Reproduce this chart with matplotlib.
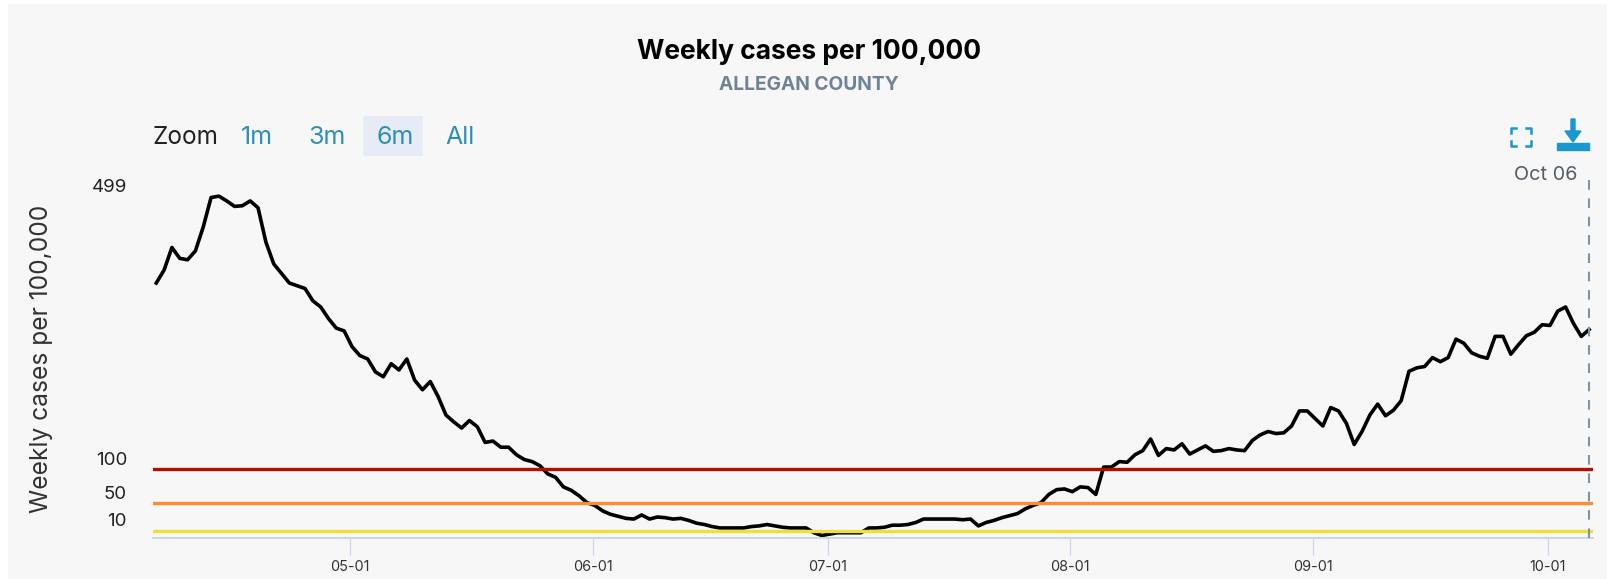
import pandas as pd
import matplotlib
matplotlib.use('Agg')
import matplotlib.pyplot as plt
import matplotlib.dates as mdates
from matplotlib.lines import Line2D
from matplotlib.patches import FancyBboxPatch, Polygon, Rectangle
from matplotlib.transforms import ScaledTranslation

plt.rcParams['font.family'] = ['Inter', 'DejaVu Sans']

# Data
weekly_cases = [
    372, 391, 424, 408, 406, 419, 454, 497, 499, 492, 484, 485, 492, 482, 432, 400,
    386, 372, 368, 364, 346, 337, 320, 306, 302, 279, 266, 261, 242, 235, 254, 245,
    261, 230, 216, 228, 206, 179, 169, 160, 171, 162, 139, 141, 132, 132, 121, 114,
    111, 105, 93, 88, 74, 69, 61, 51, 47, 39, 34, 31, 28, 27, 33, 27,
    30, 29, 27, 28, 25, 21, 19, 16, 14, 14, 14, 14, 16, 17, 19, 17,
    15, 14, 14, 14, 7, 3, 5, 7, 7, 7, 7, 14, 14, 15, 18, 18,
    19, 22, 27, 27, 27, 27, 27, 26, 27, 17, 22, 25, 29, 32, 35, 42,
    47, 51, 63, 70, 71, 67, 74, 73, 63, 103, 103, 111, 110, 121, 127, 144,
    120, 130, 128, 137, 122, 128, 134, 126, 127, 130, 128, 127, 142, 150, 155, 152,
    153, 163, 185, 185, 174, 163, 190, 185, 167, 136, 155, 179, 195, 178, 186, 200,
    243, 248, 250, 263, 257, 263, 290, 284, 270, 265, 262, 294, 294, 268, 282, 295,
    300, 311, 310, 331, 337, 313, 294, 304,
]
start_date = '2021-04-06 06:00'
month_ticks = ['2021-05-01', '2021-06-01', '2021-07-01', '2021-08-01', '2021-09-01', '2021-10-01']
y_ticks = [10, 50, 100, 499]
thresholds = [100, 50, 10]
threshold_colors = ['#b30f00', '#ff8c2e', '#f2de3a']
range_buttons = ['1m', '3m', '6m', 'All']
button_x = [257, 327, 395, 460]

W, H = 1608, 579
dates = pd.date_range(start_date, periods=len(weekly_cases), freq='D')


def fx(px):
    return px / W


def fy(py):
    return 1 - py / H


fig = plt.figure(figsize=(W / 100, H / 100), dpi=100, facecolor='white')
fig.patches.append(Rectangle((fx(8), 0), 1 - fx(8), fy(4), transform=fig.transFigure, color='#f7f7f7', zorder=-5))

ax = fig.add_axes([fx(153), fy(538), fx(1593 - 153), (538 - 180) / H])
ax.set_facecolor('none')
ax.plot(dates, weekly_cases, color='black', linewidth=2.6, zorder=2, solid_joinstyle='round')
for value, color in zip(thresholds, threshold_colors):
    ax.axhline(value, color=color, linewidth=2.4, zorder=3)
ax.axvline(dates[-1], color='#7c95a6', linewidth=1.5, dashes=(4.6, 4.2), zorder=4)

ax.set_xlim(pd.Timestamp('2021-04-05 20:00'), pd.Timestamp('2021-10-06 18:00'))
ax.set_ylim(-0.7, 522.6)
for side in ['top', 'left', 'right']:
    ax.spines[side].set_visible(False)
ax.spines['bottom'].set_color('#ccd6eb')
ax.spines['bottom'].set_linewidth(1.4)

ax.set_xticks(pd.to_datetime(month_ticks))
ax.xaxis.set_major_formatter(mdates.DateFormatter('%m-%d'))
ax.tick_params(axis='x', length=12.5, width=0.9, color='#ccd6eb', labelsize=10.4, labelcolor='#333333', pad=3.6)
ax.set_yticks(y_ticks, labels=[str(v) for v in y_ticks])
ax.tick_params(axis='y', length=0, labelsize=13.5, labelcolor='#222222', pad=18.7)
for label in ax.get_yticklabels():
    label.set_transform(label.get_transform() + ScaledTranslation(0, 0.11, fig.dpi_scale_trans))

fig.text(fx(42), fy(359), 'Weekly cases per 100,000', rotation=90, ha='center', va='center', fontsize=17.7, color='#333333')

# Titles
fig.text(fx(809), fy(52), 'Weekly cases per 100,000', ha='center', va='center', fontsize=19, fontweight='bold', color='black')
fig.text(fx(809), fy(85), 'ALLEGAN COUNTY', ha='center', va='center', fontsize=13.8, fontweight='bold', color='#6f8296')

# Range selector
fig.text(fx(153), fy(137), 'Zoom', ha='left', va='center', fontsize=17.5, color='#222222')
fig.patches.append(FancyBboxPatch((fx(365), fy(155.5)), fx(56), 39 / H, boxstyle='round,pad=0.001', transform=fig.transFigure,
                                  facecolor='#e6ebf5', edgecolor='none', zorder=-1))
for name, x in zip(range_buttons, button_x):
    fig.text(fx(x), fy(137), name, ha='center', va='center', fontsize=18, color='#2f8fb5')

# Fullscreen icon
icon_blue = '#1a97cf'
for x0, y0, dx, dy in [(1511, 128, 1, 1), (1531, 128, -1, 1), (1511, 146, 1, -1), (1531, 146, -1, -1)]:
    fig.add_artist(Line2D([fx(x0 + 5 * dx), fx(x0), fx(x0)], [fy(y0), fy(y0), fy(y0 + 5 * dy)],
                          transform=fig.transFigure, color=icon_blue, linewidth=1.8))

# Download icon
fig.patches.append(Rectangle((fx(1557), fy(150)), fx(32), 7 / H, transform=fig.transFigure, color=icon_blue))
fig.patches.append(Polygon([(fx(1571), fy(119)), (fx(1575), fy(119)), (fx(1575), fy(131)), (fx(1581), fy(131)),
                            (fx(1573), fy(142)), (fx(1565), fy(131)), (fx(1571), fy(131))],
                           transform=fig.transFigure, color=icon_blue))

fig.text(fx(1578), fy(175), 'Oct 06', ha='right', va='center', fontsize=14.3, color='#555e66')

fig.savefig('out.png', dpi=100)
